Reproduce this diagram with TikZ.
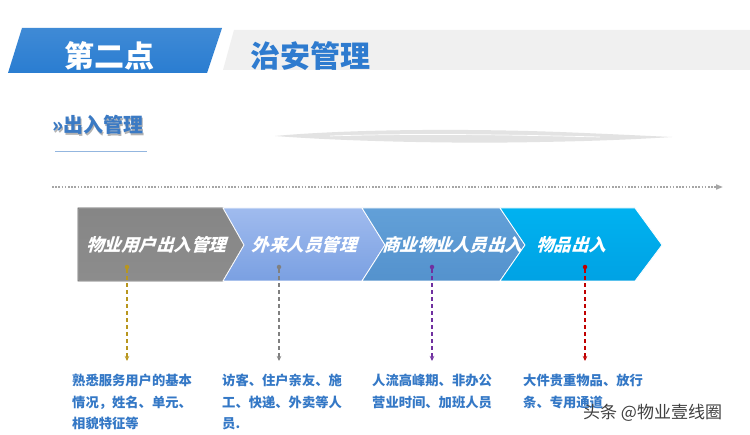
\documentclass[tikz,border=0pt]{standalone}
\usepackage{fontspec}
\newfontfamily\cjk{Noto Sans CJK SC}
\newfontfamily\cjksl[FakeSlant=0.3]{Noto Sans CJK SC}
\usetikzlibrary{arrows.meta}
\definecolor{hdrblue}{HTML}{2A7DD1}
\definecolor{titleblue}{HTML}{2E7BCF}
\definecolor{subblue}{HTML}{3B7AC4}
\definecolor{txtblue}{HTML}{3478C6}
\definecolor{bandgray}{HTML}{F0F0F0}
\definecolor{gold}{HTML}{B8961E}
\definecolor{midgray}{HTML}{808080}
\definecolor{violet}{HTML}{7030A0}
\definecolor{darkred}{HTML}{C00000}
\definecolor{peritop}{RGB}{160,187,238}
\definecolor{peribot}{RGB}{122,160,226}
\definecolor{steeltop}{RGB}{98,160,216}
\definecolor{steelbot}{RGB}{84,146,205}
\definecolor{cyantop}{RGB}{0,178,240}
\definecolor{cyanbot}{RGB}{0,162,228}
\tikzset{
  chev/.style={draw=white, line width=0.8pt},
  chevtext/.style={font=\cjksl\bfseries\fontsize{17.5}{20}\selectfont, text=white, inner sep=0pt},
  desc/.style={font=\cjk\bfseries\fontsize{13.3}{21.5}\selectfont, text=txtblue, anchor=north west, align=left, inner sep=0pt},
  pin/.style={circle, inner sep=0pt, minimum size=4.5pt},
  link/.style={line width=1.1pt, dash pattern=on 4pt off 3pt, -{Stealth[length=5pt,width=4.5pt]}}
}
\begin{document}
\begin{tikzpicture}[x=1pt,y=-1pt]
\useasboundingbox (0,0) rectangle (750,435);
\fill[white] (0,0) rectangle (750,435);

% header
\shade[top color=hdrblue!90!white, bottom color=hdrblue] (22,28) -- (222,28) -- (207,73) -- (8,73) -- cycle;
\fill[bandgray] (234,30) -- (750,30) -- (750,70) -- (223,70) -- cycle;
\node[font=\cjk\bfseries\fontsize{30}{32}\selectfont, text=white] (part) at (109,56) {第二点};
\node[font=\cjk\bfseries\fontsize{30}{32}\selectfont, text=titleblue] (title) at (310,56) {治安管理};

% subtitle
\node[font=\cjk\bfseries\fontsize{20}{22}\selectfont, text=gray!60, anchor=west, inner sep=0pt] (subshadow) at (53.5,126.5) {»出入管理};
\node[font=\cjk\bfseries\fontsize{20}{22}\selectfont, text=subblue, anchor=west, inner sep=0pt] (sub) at (52,125) {»出入管理};
\draw[draw=subblue!55, line width=0.6pt] (55,151) -- (147,151);

% swoosh
\fill[gray!22] (275,136) .. controls (340,130) and (450,128) .. (560,132) .. controls (610,134) and (650,136) .. (672,137)
  .. controls (640,139) and (600,141) .. (540,142) .. controls (450,144) and (340,141) .. (275,136) -- cycle;
\draw[white, line width=0.7pt] (330,136) .. controls (420,133) and (520,135) .. (600,137);

% timeline
\coordinate (tlstart) at (52,187);
\coordinate (tlend) at (723,187);
\draw[gray!70, line width=1.6pt, dash pattern=on 1.6pt off 1.6pt, -{Triangle[length=7pt,width=5pt]}] (tlstart) -- (tlend);

% chevrons
\shade[chev, top color=gray!95, bottom color=gray!110!black] (78,208) -- (223,208) -- (244,245) -- (223,281) -- (78,281) -- cycle;
\draw[gray!70!black, line width=0.6pt] (78,208) -- (223,208) -- (244,245) -- (223,281) -- (78,281) -- cycle;
\shade[chev, top color=peritop, bottom color=peribot] (223,208) -- (362,208) -- (385,245) -- (362,281) -- (223,281) -- (244,245) -- cycle;
\shade[chev, top color=steeltop, bottom color=steelbot] (362,208) -- (500,208) -- (525,245) -- (500,281) -- (362,281) -- (385,245) -- cycle;
\shade[chev, top color=cyantop, bottom color=cyanbot] (500,208) -- (635,208) -- (662,245) -- (635,281) -- (500,281) -- (525,245) -- cycle;

\node[chevtext] (c1) at (156,245) {物业用户出入管理};
\node[chevtext] (c2) at (304,245) {外来人员管理};
\node[chevtext] (c3) at (452,245) {商业物业人员出入};
\node[chevtext] (c4) at (571,245) {物品出入};

% pins and arrows
\node[pin, fill=gold] (p1) at (127,267) {};
\node[pin, fill=midgray] (p2) at (279,267) {};
\node[pin, fill=violet] (p3) at (432,267) {};
\node[pin, fill=darkred] (p4) at (585,267) {};
\coordinate (e1) at (127,361);
\coordinate (e2) at (279,361);
\coordinate (e3) at (432,361);
\coordinate (e4) at (585,361);
\draw[link, gold] (p1) -- (e1);
\draw[link, midgray] (p2) -- (e2);
\draw[link, violet] (p3) -- (e3);
\draw[link, darkred] (p4) -- (e4);

% descriptions
\node[desc] (d1) at (72,374) {熟悉服务用户的基本\\情况，姓名、单元、\\相貌特征等};
\node[desc] (d2) at (222,374) {访客、住户亲友、施\\工、快递、外卖等人\\员.};
\node[desc] (d3) at (372,374) {人流高峰期、非办公\\营业时间、加班人员};
\node[desc] (d4) at (523,374) {大件贵重物品、放行\\条、专用通道};

% watermark
\node[font=\cjk\fontsize{17}{19}\selectfont, text=black!75, anchor=west, inner sep=0pt] (wm) at (583,413) {头条 @物业壹线圈};
\end{tikzpicture}
\end{document}
